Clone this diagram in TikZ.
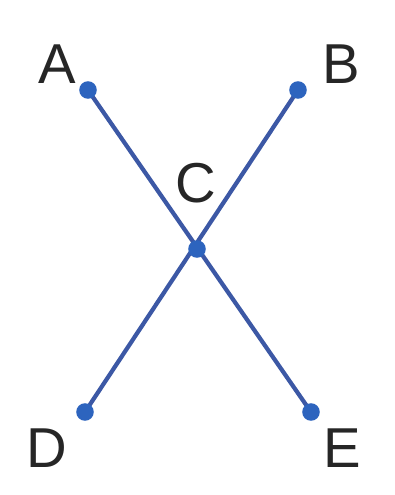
\documentclass[tikz,border=0pt]{standalone}
\usepackage{fontspec}
\setmainfont{Liberation Sans}
\usepackage{xcolor}
\definecolor{segblue}{RGB}{60,88,165}
\definecolor{dotblue}{RGB}{45,100,190}
\usetikzlibrary{positioning}
\tikzset{
    seg/.style    = {draw=segblue, line width=3pt, line cap=round},
    ptdot/.style  = {circle, fill=dotblue, inner sep=0pt, minimum size=12.5pt},
    ptlabel/.style = {font=\fontsize{40}{44}\selectfont, text=black!85, inner sep=0pt}
}
\begin{document}
\begin{tikzpicture}[x=0.025cm, y=-0.025cm]
\useasboundingbox (0,0) rectangle (395,495);

% --- points ---
\coordinate (A) at (88,90);
\coordinate (B) at (298,90);
\coordinate (C) at (197,249);
\coordinate (D) at (85,412);
\coordinate (E) at (311,412);

% --- the two crossing segments ---
\draw[seg] (A) -- (E);
\draw[seg] (B) -- (D);

% --- dots ---
\foreach \p in {A,B,C,D,E}
   \node[ptdot] (dot\p) at (\p) {};

% --- labels ---
\node[ptlabel] (lblA) at (57,64)  {A};
\node[ptlabel] (lblB) at (341,64) {B};
\node[ptlabel] (lblC) at (196,183) {C};
\node[ptlabel] (lblD) at (47,448) {D};
\node[ptlabel] (lblE) at (342,448) {E};

\end{tikzpicture}
\end{document}
